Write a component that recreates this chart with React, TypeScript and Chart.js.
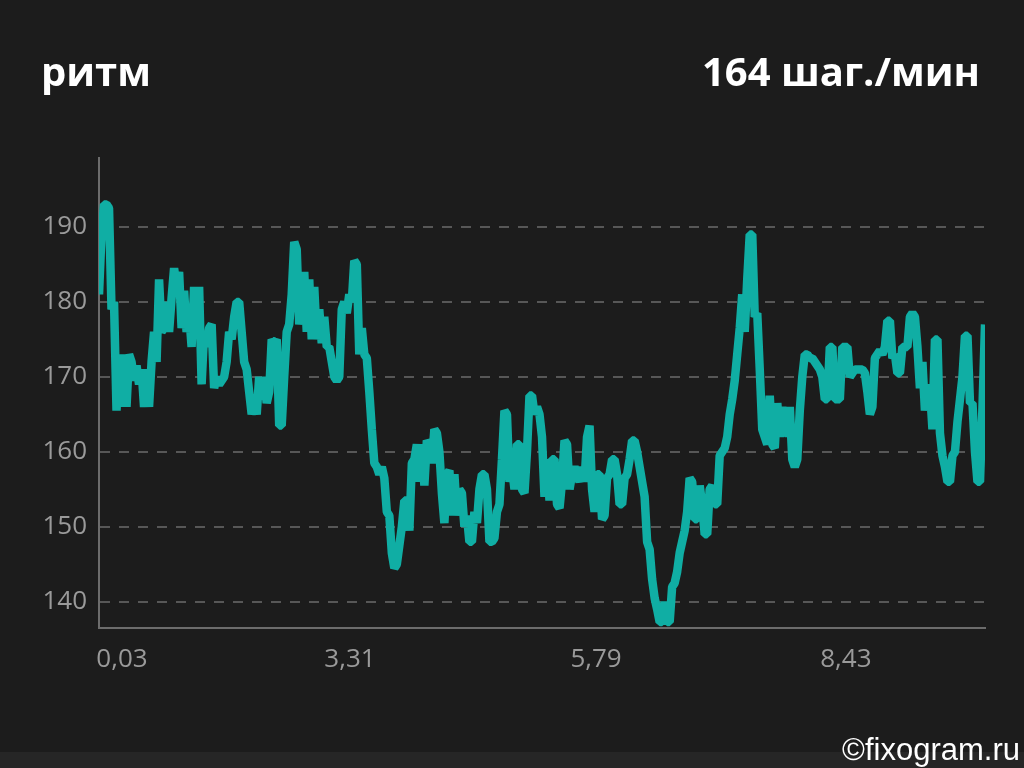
import React, { useEffect, useRef } from "react";
import { Chart, registerables } from "chart.js";

Chart.register(...registerables);

// Cadence samples (steps/min), evenly spaced in time
const cadence: number[] = [
  181, 189, 193, 193, 192.5, 179, 180, 165.5, 173, 166,
  173, 166, 173, 172, 169.5, 171.5, 169, 171, 166, 171,
  166, 172, 176, 172, 183, 176, 176.5, 180, 176, 180.5,
  184.5, 182, 184, 176.5, 181.5, 176, 178.5, 174, 182, 176,
  182, 169, 176, 174, 176.5, 177, 168.5, 170, 169, 169.5,
  170, 172, 176, 175, 178, 180, 180, 176, 172, 171,
  168, 165, 166.5, 165, 170, 167, 170, 166.5, 168, 175,
  174.5, 175, 163.5, 163.5, 170, 176, 177, 181, 188, 187,
  177, 180, 184, 176, 183, 175, 182, 175, 179, 174.5,
  178, 174, 174, 172, 170, 169.5, 170, 179, 180, 178.5,
  181, 180, 185.5, 185, 173, 176.5, 173, 172.5, 168, 163,
  158.5, 158, 157, 158, 156.5, 152, 151.5, 146.5, 144.5, 145,
  147.5, 150, 153.5, 153.5, 149.5, 158.5, 159, 161, 156, 161,
  155.5, 161.5, 161, 158.5, 163, 162.5, 160, 154.5, 150.5, 157,
  157.5, 151.5, 157, 151.5, 155, 154.5, 150, 151.5, 148, 148,
  152, 150.5, 155, 157, 157, 155, 148, 148, 148.5, 152,
  153, 159, 165.5, 165, 156, 158, 155, 161, 161, 155,
  154.5, 160, 167.5, 167.5, 165, 166, 165, 162, 154, 159,
  153.5, 159, 159, 153, 152.5, 156, 161.5, 161, 155, 157,
  158, 157, 156, 158, 156, 162, 163.5, 155, 152, 157,
  157, 151, 151.5, 156.5, 157, 159, 159, 157, 153, 153,
  156.5, 157, 159, 161.5, 161.5, 160, 158, 156, 154, 148,
  147, 143, 140.5, 139, 137.3, 137.3, 140, 137.3, 137.3, 142,
  142.5, 144, 146.5, 148, 149.5, 152, 156.5, 156, 151, 151,
  155.5, 153, 149, 149, 155, 155.5, 153, 153, 159.5, 160,
  160.5, 162, 165, 167, 169.5, 173, 176.5, 181, 176, 183,
  189, 189, 178, 178.5, 171, 163, 162, 161, 167.5, 161,
  160.5, 166.5, 162, 166, 162.5, 162.5, 166, 159, 158, 159,
  165.5, 170, 173, 173, 172.5, 172.5, 172, 171.5, 171, 170,
  167, 167, 174, 174, 167, 167, 167, 174, 174, 174,
  170, 170.5, 171, 171, 171, 171, 170.5, 168, 165, 166,
  172.5, 173, 173.5, 173, 174, 177.5, 177.5, 172.5, 173, 170.5,
  170.5, 174, 174, 174, 178, 178.5, 178, 174, 168.5, 172,
  165.5, 168.5, 168.5, 163, 175, 175, 162.5, 159.5, 158, 156,
  156, 159.5, 160, 164, 167, 170, 175.5, 175.5, 166.5, 166.5,
  160, 156, 156, 166, 177,
];

// Distance labels (km) shown under the chart, and the sample index they sit at
const xTickLabels: string[] = ["0,03", "3,31", "5,79", "8,43"];
const xTickPositions: number[] = [9.2, 100.3, 198.6, 298.4];
const yTicks: number[] = [140, 150, 160, 170, 180, 190];

const titleLeft = "ритм";
const titleRight = "164 шаг./мин";
const watermark = "©fixogram.ru";

const BG = "#1c1c1c";
const LINE = "#10aea4";

export default function App() {
  const canvasRef = useRef<HTMLCanvasElement | null>(null);

  useEffect(() => {
    document.body.style.margin = "0";
    document.body.style.background = BG;
    const canvas = canvasRef.current;
    if (!canvas) return;
    const chart = new Chart(canvas, {
      type: "line",
      data: {
        datasets: [
          {
            data: cadence.map((v, i) => ({ x: i, y: v })),
            borderColor: LINE,
            borderWidth: 8.5,
            pointRadius: 0,
            tension: 0,
            borderJoinStyle: "bevel",
            borderCapStyle: "butt",
            fill: false,
          },
        ],
      },
      options: {
        animation: false,
        responsive: false,
        devicePixelRatio: 1,
        layout: { padding: { left: 0, top: 158, right: 39, bottom: 0 } },
        plugins: {
          legend: { display: false },
          tooltip: { enabled: false },
          title: { display: false },
        },
        scales: {
          x: {
            type: "linear",
            min: 0,
            max: cadence.length - 1,
            grid: { display: false, drawTicks: false },
            border: { display: true, color: "#6c6c6c", width: 2 },
            afterBuildTicks: (scale: any) => {
              scale.ticks = xTickPositions.map((v) => ({ value: v }));
            },
            afterFit: (scale: any) => {
              scale.height = 140;
            },
            ticks: {
              autoSkip: false,
              maxRotation: 0,
              padding: 16,
              color: "#9a9a9a",
              font: { family: "'Open Sans'", size: 26 },
              callback: (_v: any, i: number) => xTickLabels[i],
            },
          },
          y: {
            type: "linear",
            min: 136.5,
            max: 199.2,
            grid: { color: "#575757", lineWidth: 2, drawTicks: false },
            border: { display: true, color: "#6c6c6c", width: 2, dash: [10, 9] },
            afterBuildTicks: (scale: any) => {
              scale.ticks = yTicks.map((v) => ({ value: v }));
            },
            afterFit: (scale: any) => {
              scale.width = 99;
            },
            ticks: {
              padding: 12,
              color: "#9a9a9a",
              font: { family: "'Open Sans'", size: 26 },
              callback: (v: any) => String(v),
            },
          },
        },
      },
    });
    return () => chart.destroy();
  }, []);

  const titleStyle: React.CSSProperties = {
    position: "absolute",
    top: 51,
    fontFamily: "'Open Sans', sans-serif",
    fontWeight: 700,
    fontSize: 40,
    lineHeight: "40px",
    color: "#ffffff",
    whiteSpace: "nowrap",
  };

  return (
    <div
      style={{
        position: "relative",
        width: 1024,
        height: 768,
        overflow: "hidden",
        background: BG,
      }}
    >
      <div
        style={{
          position: "absolute",
          left: 0,
          top: 752,
          width: 1024,
          height: 16,
          background: "#262626",
        }}
      />
      <canvas
        ref={canvasRef}
        width={1024}
        height={768}
        style={{ position: "absolute", left: 0, top: 0, width: 1024, height: 768 }}
      />
      <div style={{ ...titleStyle, left: 41 }}>{titleLeft}</div>
      <div style={{ ...titleStyle, right: 44, textAlign: "right" }}>{titleRight}</div>
      <div
        style={{
          position: "absolute",
          right: 4,
          top: 734,
          fontFamily: "'Liberation Sans', Arial, sans-serif",
          fontSize: 31,
          lineHeight: "31px",
          color: "#ffffff",
          whiteSpace: "nowrap",
        }}
      >
        {watermark}
      </div>
    </div>
  );
}
